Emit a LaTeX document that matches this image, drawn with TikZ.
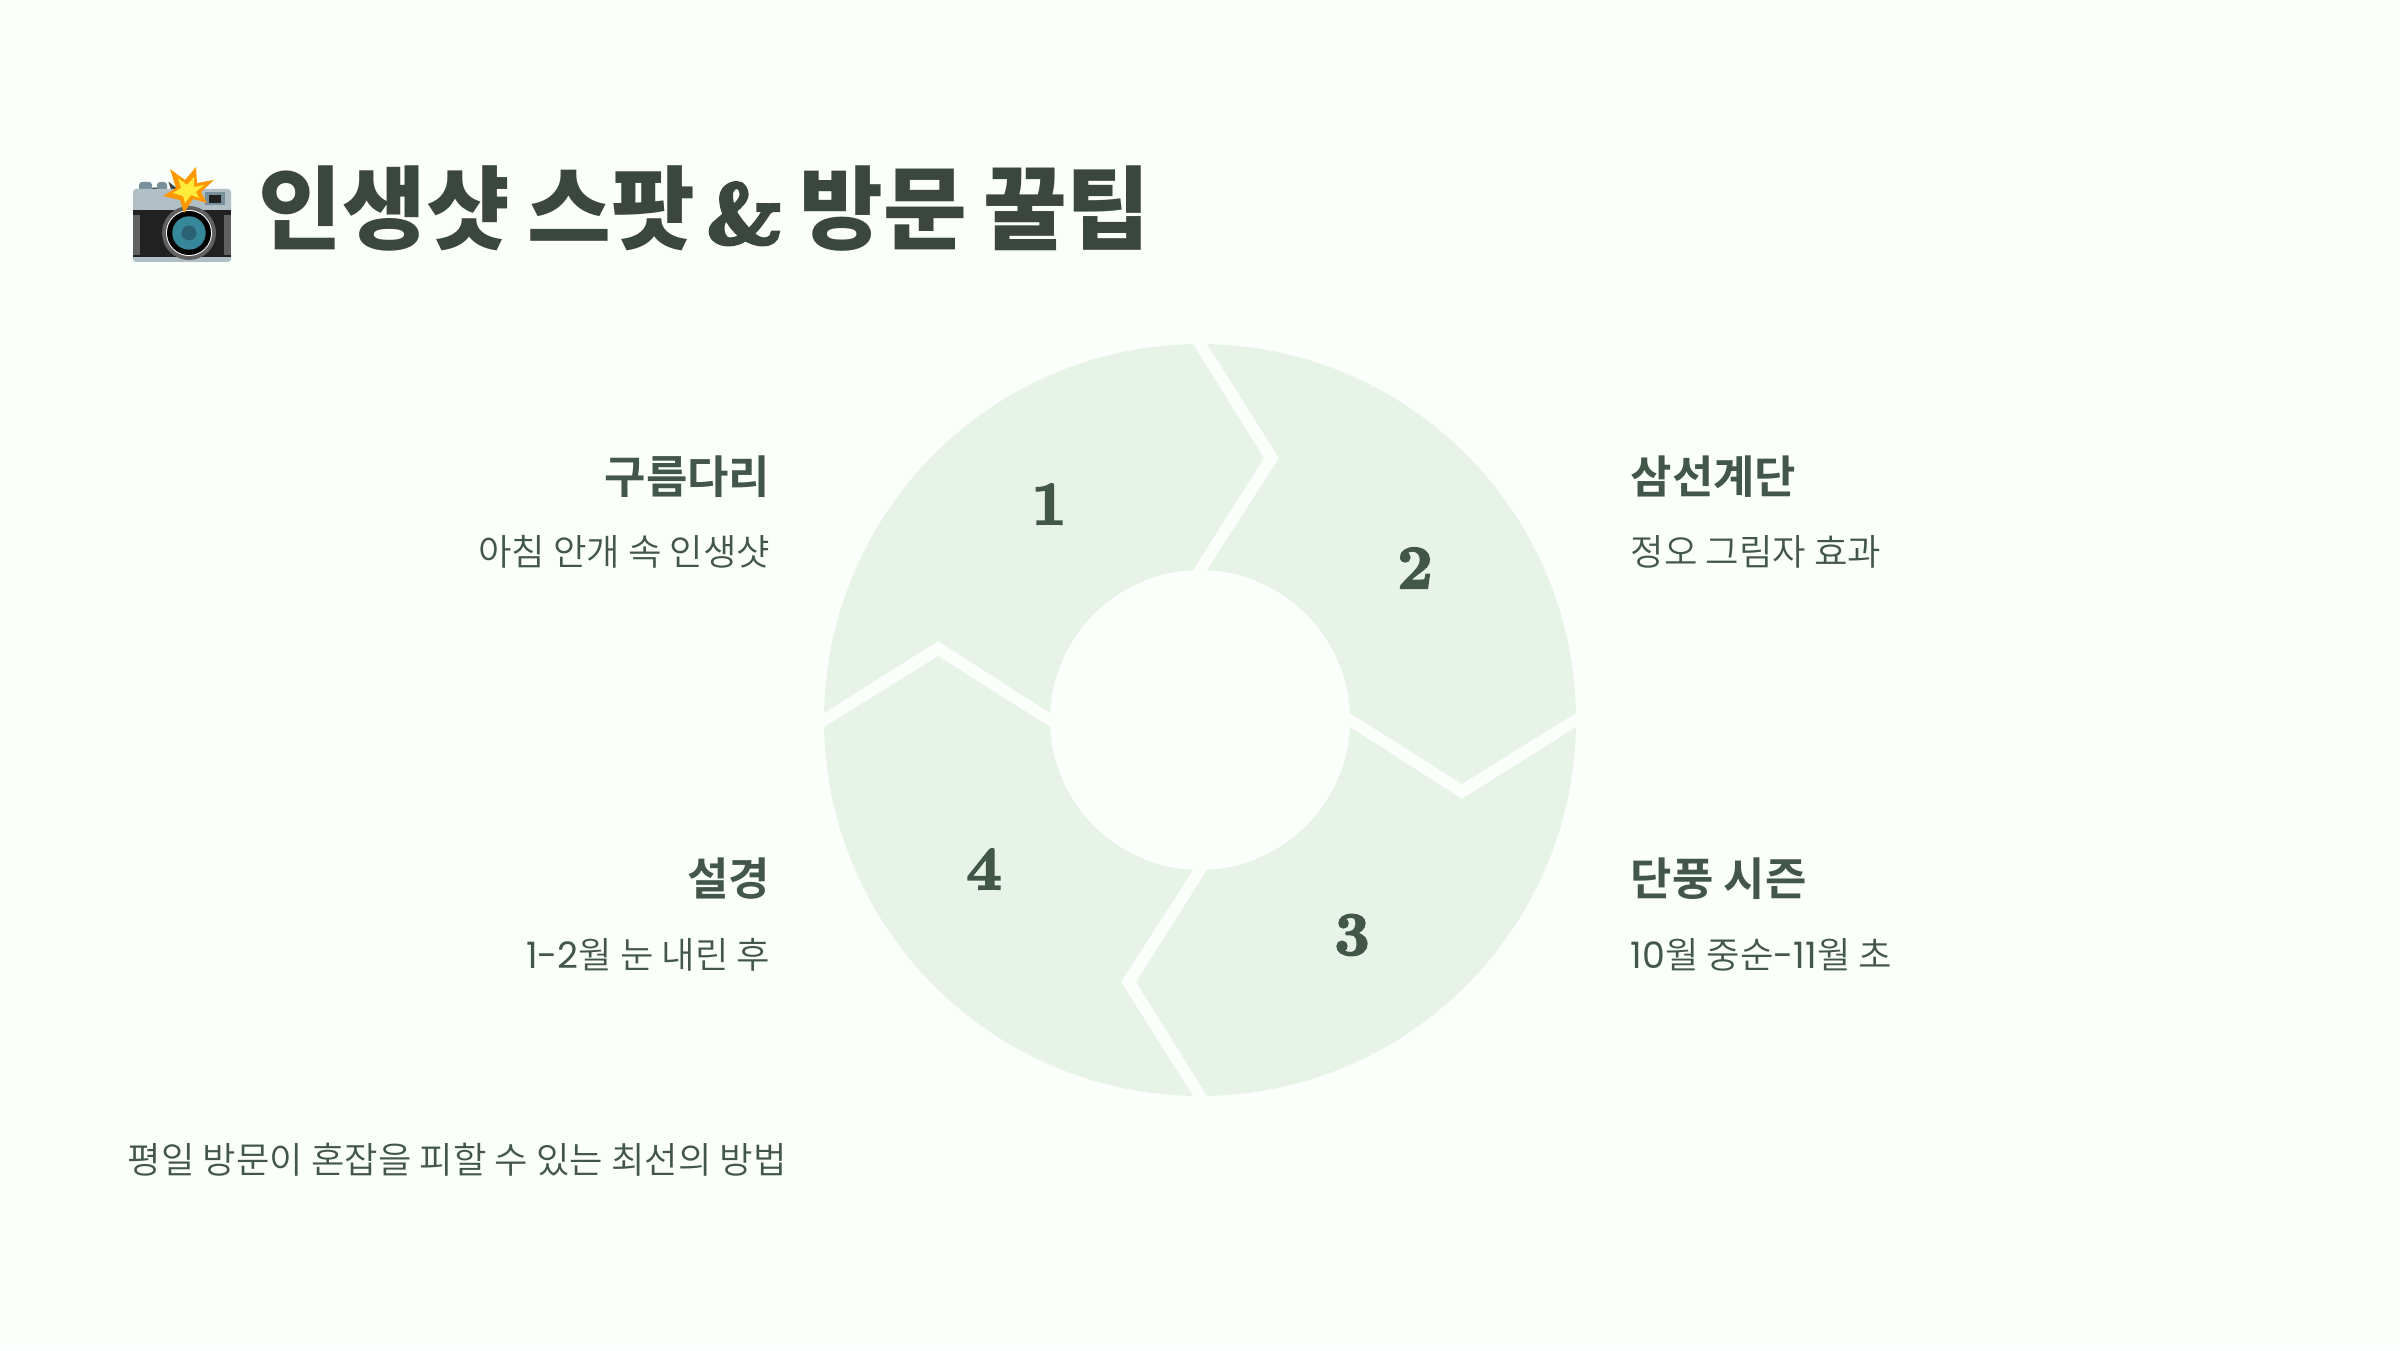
\documentclass[tikz,border=0pt]{standalone}
\usepackage{fontspec}
\newfontfamily\krreg{Noto Sans CJK KR DemiLight}
\newfontfamily\krblack{Noto Sans CJK KR Black}
\newfontfamily\krbold{Noto Sans CJK KR Bold}
\newfontfamily\digfont{Poppins}
\newfontfamily\emojifont{Noto Emoji}
\newfontfamily\fatfont[Extension=.otf,FakeBold=3]{lmroman10-bold}
\newfontfamily\ampfont[Extension=.otf,FakeBold=6]{lmroman10-bold}
\usetikzlibrary{positioning}
\definecolor{hatter}{HTML}{FBFFFB}
\definecolor{halvany}{HTML}{E8F3E8}
\definecolor{sotet}{HTML}{3C4640}
\definecolor{szoveg}{HTML}{42564A}
\definecolor{kamszurke}{HTML}{B0BEC5}
\definecolor{kamsotet}{HTML}{212121}
\definecolor{kamkek}{HTML}{78909C}
\definecolor{kamgrip}{HTML}{616161}
\definecolor{lencse}{HTML}{37879B}
\definecolor{lencsebel}{HTML}{2A6273}
\definecolor{villan}{HTML}{FF9800}
\definecolor{villanbel}{HTML}{FFEB3B}
\tikzset{
  slice/.style={fill=halvany,draw=none},
  num/.style={font=\fatfont\fontsize{17.5}{17.5}\selectfont,text=szoveg,inner sep=0pt},
  spot/.style={font=\krbold\fontsize{12.8}{12.8}\selectfont,text=szoveg,inner sep=0pt},
  note/.style={font=\krreg\fontsize{10.35}{10.35}\selectfont,text=szoveg,inner sep=0pt},
}
\begin{document}
\begin{tikzpicture}
  \fill[hatter] (0,0) rectangle (24,13.5);
  \useasboundingbox (0,0) rectangle (24,13.5);
  % gyuru
  \foreach \rot in {0,-90,-180,-270} {
    \begin{scope}[shift={(12,6.3)},rotate=\rot]
      \fill[slice] (178.93:3.76) arc (178.93:91.07:3.76) -- (0.64,2.62) -- (92.67:1.5)
        arc (92.67:177.33:1.5) -- (-2.62,0.79) -- cycle;
    \end{scope}
  }
  \node[num] (n1) at (10.49,8.46) {1};
  \node[num] (n2) at (14.15,7.82) {2};
  \node[num] (n3) at (13.52,4.15) {3};
  \node[num] (n4) at (9.84,4.81) {4};
  % kamera
  \node[anchor=base west,inner sep=0pt,font=\emojifont\fontsize{18}{18}\selectfont,text=sotet] (kamera) at (1.39,11.14) {📸};
  \begin{scope}[shift={(1.33,11.9)}]
    \fill[kamkek,rounded corners=0.03cm] (0.06,-0.22) rectangle (0.19,-0.32);
    \fill[kamkek,rounded corners=0.03cm] (0.24,-0.22) rectangle (0.34,-0.32);
    \fill[kamszurke,rounded corners=0.03cm] (0,-0.29) rectangle (0.98,-0.55);
    \fill[kamszurke,rounded corners=0.03cm] (0,-0.9) rectangle (0.98,-1.02);
    \fill[kamsotet] (0,-0.5) rectangle (0.98,-0.97);
    \fill[kamgrip] (0,-0.55) rectangle (0.07,-0.95);
    \fill[kamgrip] (0.91,-0.55) rectangle (0.98,-0.95);
    \fill[kamkek] (0.72,-0.32) rectangle (0.92,-0.45);
    \fill[kamsotet] (0.76,-0.35) rectangle (0.88,-0.43);
    \fill[kamgrip] (0.56,-0.73) circle (0.27);
    \fill[white] (0.56,-0.73) circle (0.23);
    \fill[black] (0.56,-0.73) circle (0.22);
    \fill[lencse] (0.56,-0.73) circle (0.167);
    \fill[lencsebel] (0.56,-0.73) circle (0.075);
    \fill[villan] (0.37,-0.09) -- (0.52,-0.2) -- (0.63,-0.07) -- (0.64,-0.23) -- (0.81,-0.2)
      -- (0.68,-0.32) -- (0.74,-0.43) -- (0.6,-0.39) -- (0.51,-0.53) -- (0.47,-0.4)
      -- (0.3,-0.36) -- (0.43,-0.28) -- cycle;
    \fill[villanbel] (0.45,-0.18) -- (0.54,-0.25) -- (0.61,-0.17) -- (0.61,-0.27) -- (0.71,-0.25)
      -- (0.63,-0.32) -- (0.66,-0.38) -- (0.58,-0.35) -- (0.52,-0.43) -- (0.5,-0.36)
      -- (0.4,-0.33) -- (0.48,-0.28) -- cycle;
  \end{scope}
  % cim
  \node[anchor=base west,inner sep=0pt,font=\krblack\fontsize{25.9}{25.9}\selectfont,text=sotet] (cim) at (2.58,11.07)
    {인생샷\hspace{-0.03cm} 스팟\hspace{-0.09cm} {\ampfont\fontsize{24}{24}\selectfont\&}\hspace{-0.04cm} 방문\hspace{-0.045cm} 꿀팁};
  % bal oldal
  \node[spot,anchor=base east] (s1) at (7.71,8.57) {구름다리};
  \node[note,anchor=base east] (l1) at (7.71,7.85) {아침 안개 속 인생샷};
  \node[spot,anchor=base east] (s4) at (7.71,4.55) {설경};
  \node[note,anchor=base east] (l4) at (7.71,3.82) {{\digfont 1-2}월 눈 내린 후};
  % jobb oldal
  \node[spot,anchor=base west] (s2) at (16.3,8.57) {삼선계단};
  \node[note,anchor=base west] (l2) at (16.3,7.85) {정오 그림자 효과};
  \node[spot,anchor=base west] (s3) at (16.3,4.55) {단풍 시즌};
  \node[note,anchor=base west] (l3) at (16.3,3.82) {{\digfont 10}월 중순{\digfont -11}월 초};
  \node[note,anchor=base west] (lab) at (1.27,1.77) {평일 방문이 혼잡을 피할 수 있는 최선의 방법};
\end{tikzpicture}
\end{document}
